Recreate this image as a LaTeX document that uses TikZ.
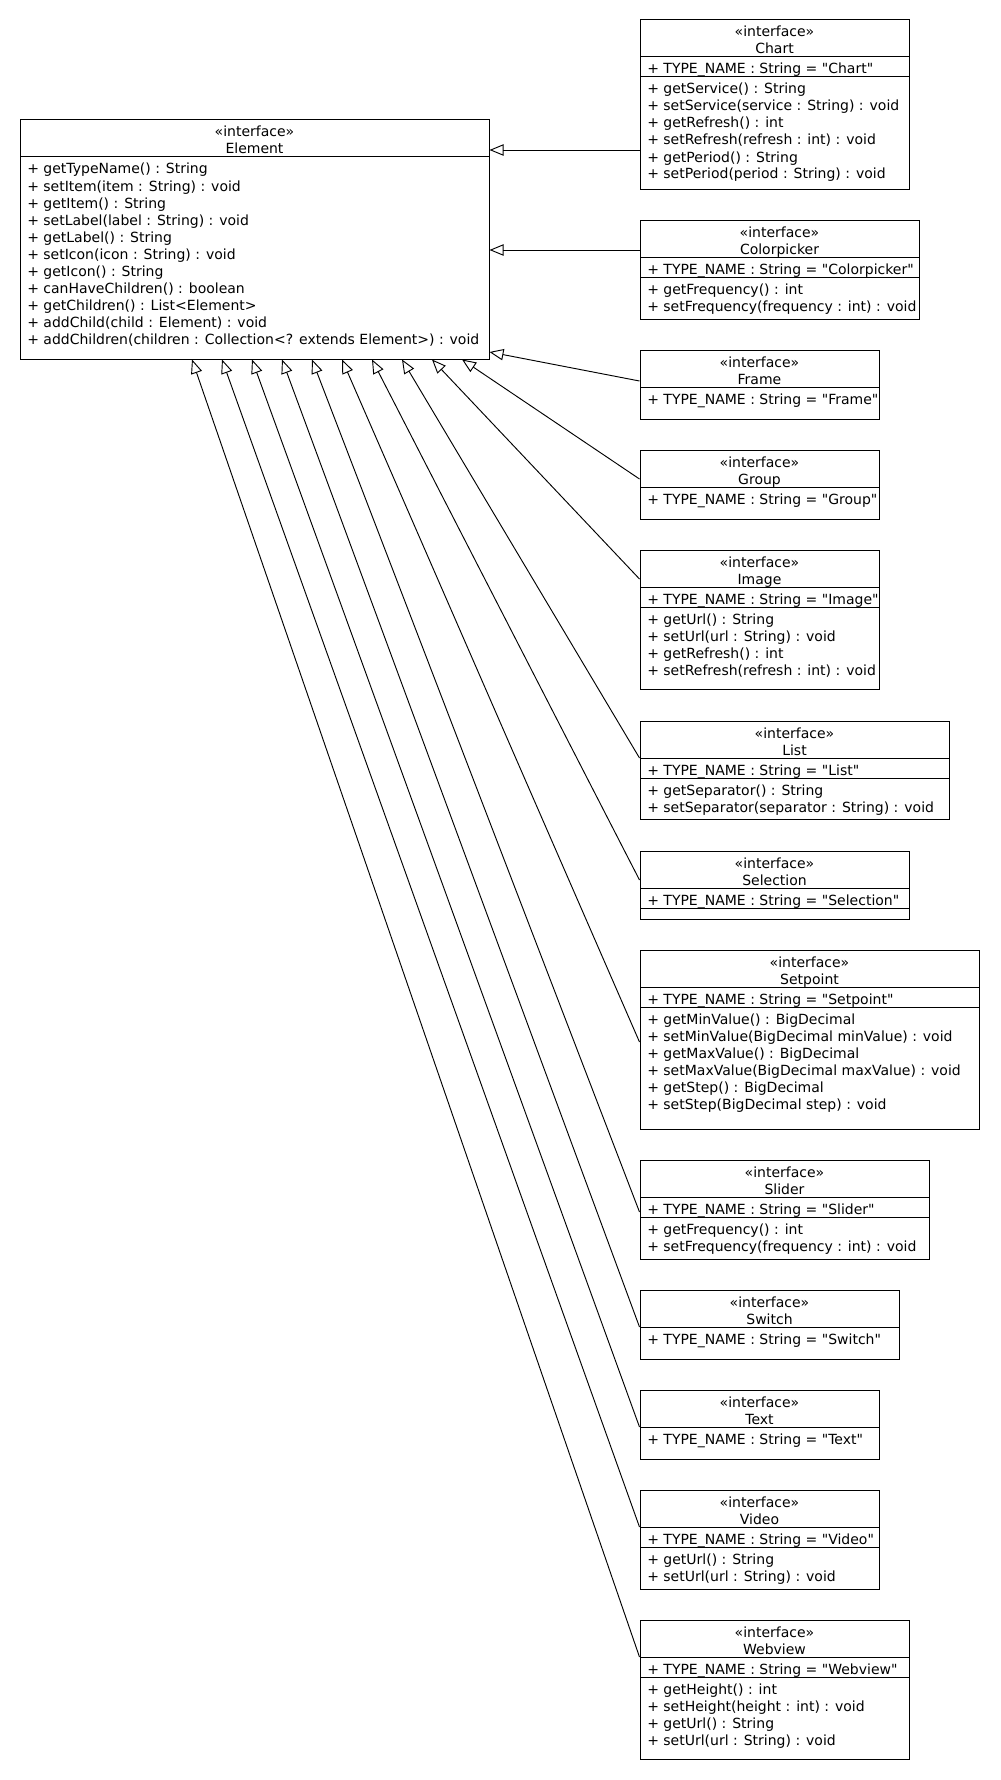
\documentclass[tikz,border=0pt]{standalone}
\usepackage{fontspec}
\newfontfamily\umlfont{DejaVu Sans}
\usetikzlibrary{arrows.meta,fit}

% class box: name, left, top, right, bottom, class name
\newcommand\umlclass[6]{%
  \node[classbox, fit={(#2,#3) (#4,#5)}] (#1) {};
  \node[titletext] at ({(#2+#4)/2},#3+17) {«interface»};
  \node[titletext] at ({(#2+#4)/2},#3+34) {#6};
  \draw[divider] (#2,#3+37) -- (#4,#3+37);
}
% compartment divider: left, right, y
\newcommand\umldivider[3]{\draw[divider] (#1,#3) -- (#2,#3);}
% rows of a compartment: left x, first baseline, rows
\newcommand\umlrows[3]{%
  \foreach \row [count=\k from 0] in {#3}{\node[member] at (#1+7,{#2+17*\k}) {\row};}}

\begin{document}
\begin{tikzpicture}[x=0.75pt, y=-0.75pt,
  font=\umlfont\fontsize{10.5pt}{12.75pt}\selectfont,
  classbox/.style={draw, line width=0.75pt, inner sep=0pt},
  divider/.style={line width=0.75pt},
  titletext/.style={anchor=base, inner sep=0pt},
  member/.style={anchor=base west, inner sep=0pt},
  realizes/.style={line width=0.7pt, -{Triangle[open, length=10.5pt, width=8.5pt]}}]

\fill[white] (0,0) rectangle (1000,1780);
\useasboundingbox (0,0) rectangle (1000,1780);

% Element
\umlclass{element}{20}{120}{489}{359}{Element}
\umlrows{20}{174}{+ getTypeName() : String, + setItem(item : String) : void, + getItem() : String, + setLabel(label : String) : void, + getLabel() : String, + setIcon(icon : String) : void, + getIcon() : String, + canHaveChildren() : boolean, + getChildren() : List<Element>, + addChild(child : Element) : void, + addChildren(children : Collection<? extends Element>) : void}

% Chart
\umlclass{chart}{640}{20}{909}{189}{Chart}
\umlrows{640}{74}{+ TYPE\_NAME : String = "Chart"}
\umldivider{640}{909}{77}
\umlrows{640}{94}{+ getService() : String, + setService(service : String) : void, + getRefresh() : int, + setRefresh(refresh : int) : void, + getPeriod() : String, + setPeriod(period : String) : void}

% Colorpicker
\umlclass{colorpicker}{640}{220}{919}{319}{Colorpicker}
\umlrows{640}{274}{+ TYPE\_NAME : String = "Colorpicker"}
\umldivider{640}{919}{277}
\umlrows{640}{294}{+ getFrequency() : int, + setFrequency(frequency : int) : void}

% Frame
\umlclass{frame}{640}{350}{879}{419}{Frame}
\umlrows{640}{404}{+ TYPE\_NAME : String = "Frame"}

% Group
\umlclass{group}{640}{450}{879}{519}{Group}
\umlrows{640}{504}{+ TYPE\_NAME : String = "Group"}

% Image
\umlclass{image}{640}{550}{879}{689}{Image}
\umlrows{640}{604}{+ TYPE\_NAME : String = "Image"}
\umldivider{640}{879}{607}
\umlrows{640}{624}{+ getUrl() : String, + setUrl(url : String) : void, + getRefresh() : int, + setRefresh(refresh : int) : void}

% List
\umlclass{list}{640}{721}{949}{819.5}{List}
\umlrows{640}{775}{+ TYPE\_NAME : String = "List"}
\umldivider{640}{949}{778}
\umlrows{640}{795}{+ getSeparator() : String, + setSeparator(separator : String) : void}

% Selection
\umlclass{selection}{640}{851}{909}{919}{Selection}
\umlrows{640}{905}{+ TYPE\_NAME : String = "Selection"}
\umldivider{640}{909}{908}

% Setpoint
\umlclass{setpoint}{640}{950}{979}{1129}{Setpoint}
\umlrows{640}{1004}{+ TYPE\_NAME : String = "Setpoint"}
\umldivider{640}{979}{1007}
\umlrows{640}{1024}{+ getMinValue() : BigDecimal, + setMinValue(BigDecimal minValue) : void, + getMaxValue() : BigDecimal, + setMaxValue(BigDecimal maxValue) : void, + getStep() : BigDecimal, + setStep(BigDecimal step) : void}

% Slider
\umlclass{slider}{640}{1160}{929}{1259}{Slider}
\umlrows{640}{1214}{+ TYPE\_NAME : String = "Slider"}
\umldivider{640}{929}{1217}
\umlrows{640}{1234}{+ getFrequency() : int, + setFrequency(frequency : int) : void}

% Switch
\umlclass{switch}{640}{1290}{899}{1359}{Switch}
\umlrows{640}{1344}{+ TYPE\_NAME : String = "Switch"}

% Text
\umlclass{text}{640}{1390}{879}{1459}{Text}
\umlrows{640}{1444}{+ TYPE\_NAME : String = "Text"}

% Video
\umlclass{video}{640}{1490}{879}{1589}{Video}
\umlrows{640}{1544}{+ TYPE\_NAME : String = "Video"}
\umldivider{640}{879}{1547}
\umlrows{640}{1564}{+ getUrl() : String, + setUrl(url : String) : void}

% Webview
\umlclass{webview}{640}{1620}{909}{1759}{Webview}
\umlrows{640}{1674}{+ TYPE\_NAME : String = "Webview"}
\umldivider{640}{909}{1677}
\umlrows{640}{1694}{+ getHeight() : int, + setHeight(height : int) : void, + getUrl() : String, + setUrl(url : String) : void}

% realization arrows into Element
\draw[realizes] (chart.west |- 0,150) -- (element.east |- 0,150);
\draw[realizes] (colorpicker.west |- 0,250) -- (element.east |- 0,250);
\draw[realizes] (frame.west |- 0,381) -- (element.east |- 0,352);
\draw[realizes] (group.west |- 0,479) -- (element.south -| 462,0);
\draw[realizes] (image.west |- 0,579) -- (element.south -| 432,0);
\draw[realizes] (list.west |- 0,758) -- (element.south -| 402,0);
\draw[realizes] (selection.west |- 0,880) -- (element.south -| 372,0);
\draw[realizes] (setpoint.west |- 0,1042) -- (element.south -| 342,0);
\draw[realizes] (slider.west |- 0,1212) -- (element.south -| 312,0);
\draw[realizes] (switch.west |- 0,1327) -- (element.south -| 282,0);
\draw[realizes] (text.west |- 0,1427) -- (element.south -| 252,0);
\draw[realizes] (video.west |- 0,1527) -- (element.south -| 222,0);
\draw[realizes] (webview.west |- 0,1657) -- (element.south -| 192,0);
\end{tikzpicture}
\end{document}
